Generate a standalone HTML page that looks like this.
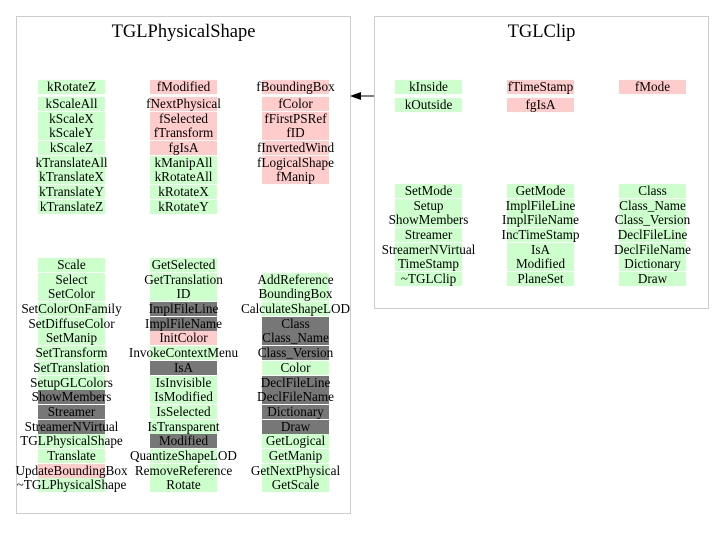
<!DOCTYPE html>
<html><head><style>
body{margin:0;width:723px;height:540px;background:#fff;position:relative;overflow:hidden;font-family:"Liberation Serif",serif}
.b{position:absolute;border:1px solid #cccccc}
.t{position:absolute;font-size:18.5px;text-align:center}
.c{position:absolute;width:67px;height:14px;line-height:14px;font-size:13.2px;display:flex;justify-content:center;white-space:nowrap;color:#000}
.g{background:#ccffcc}.p{background:#ffcccc}.d{background:#777}
</style></head><body>
<div class="b" style="left:16px;top:16px;width:333px;height:496px"></div>
<div class="t" style="left:16px;top:22px;width:335px">TGLPhysicalShape</div>
<div class="b" style="left:374px;top:16px;width:333px;height:291px"></div>
<div class="t" style="left:374px;top:22px;width:335px">TGLClip</div>
<svg style="position:absolute;left:0;top:0" width="723" height="540"><line x1="374" y1="96" x2="358" y2="96" stroke="#000"/><polygon points="350,96 361,92 361,100" fill="#000"/></svg>

<div class="c g" style="left:38px;top:80px">kRotateZ</div>
<div class="c g" style="left:38px;top:97px">kScaleAll</div>
<div class="c g" style="left:38px;top:112px">kScaleX</div>
<div class="c g" style="left:38px;top:126px">kScaleY</div>
<div class="c g" style="left:38px;top:141px">kScaleZ</div>
<div class="c g" style="left:38px;top:156px">kTranslateAll</div>
<div class="c g" style="left:38px;top:170px">kTranslateX</div>
<div class="c g" style="left:38px;top:185px">kTranslateY</div>
<div class="c g" style="left:38px;top:200px">kTranslateZ</div>

<div class="c p" style="left:150px;top:80px">fModified</div>
<div class="c p" style="left:150px;top:97px">fNextPhysical</div>
<div class="c p" style="left:150px;top:112px">fSelected</div>
<div class="c p" style="left:150px;top:126px">fTransform</div>
<div class="c p" style="left:150px;top:141px">fgIsA</div>
<div class="c g" style="left:150px;top:156px">kManipAll</div>
<div class="c g" style="left:150px;top:170px">kRotateAll</div>
<div class="c g" style="left:150px;top:185px">kRotateX</div>
<div class="c g" style="left:150px;top:200px">kRotateY</div>

<div class="c p" style="left:262px;top:80px">fBoundingBox</div>
<div class="c p" style="left:262px;top:97px">fColor</div>
<div class="c p" style="left:262px;top:112px">fFirstPSRef</div>
<div class="c p" style="left:262px;top:126px">fID</div>
<div class="c p" style="left:262px;top:141px">fInvertedWind</div>
<div class="c p" style="left:262px;top:156px">fLogicalShape</div>
<div class="c p" style="left:262px;top:170px">fManip</div>

<div class="c g" style="left:38px;top:258px">Scale</div>
<div class="c g" style="left:38px;top:273px">Select</div>
<div class="c g" style="left:38px;top:287px">SetColor</div>
<div class="c g" style="left:38px;top:302px">SetColorOnFamily</div>
<div class="c g" style="left:38px;top:317px">SetDiffuseColor</div>
<div class="c g" style="left:38px;top:331px">SetManip</div>
<div class="c g" style="left:38px;top:346px">SetTransform</div>
<div class="c g" style="left:38px;top:361px">SetTranslation</div>
<div class="c g" style="left:38px;top:376px">SetupGLColors</div>
<div class="c d" style="left:38px;top:390px">ShowMembers</div>
<div class="c d" style="left:38px;top:405px">Streamer</div>
<div class="c d" style="left:38px;top:420px">StreamerNVirtual</div>
<div class="c g" style="left:38px;top:434px">TGLPhysicalShape</div>
<div class="c g" style="left:38px;top:449px">Translate</div>
<div class="c p" style="left:38px;top:464px">UpdateBoundingBox</div>
<div class="c g" style="left:38px;top:478px">~TGLPhysicalShape</div>

<div class="c g" style="left:150px;top:258px">GetSelected</div>
<div class="c g" style="left:150px;top:273px">GetTranslation</div>
<div class="c g" style="left:150px;top:287px">ID</div>
<div class="c d" style="left:150px;top:302px">ImplFileLine</div>
<div class="c d" style="left:150px;top:317px">ImplFileName</div>
<div class="c p" style="left:150px;top:331px">InitColor</div>
<div class="c g" style="left:150px;top:346px">InvokeContextMenu</div>
<div class="c d" style="left:150px;top:361px">IsA</div>
<div class="c g" style="left:150px;top:376px">IsInvisible</div>
<div class="c g" style="left:150px;top:390px">IsModified</div>
<div class="c g" style="left:150px;top:405px">IsSelected</div>
<div class="c g" style="left:150px;top:420px">IsTransparent</div>
<div class="c d" style="left:150px;top:434px">Modified</div>
<div class="c g" style="left:150px;top:449px">QuantizeShapeLOD</div>
<div class="c g" style="left:150px;top:464px">RemoveReference</div>
<div class="c g" style="left:150px;top:478px">Rotate</div>

<div class="c g" style="left:262px;top:273px">AddReference</div>
<div class="c g" style="left:262px;top:287px">BoundingBox</div>
<div class="c g" style="left:262px;top:302px">CalculateShapeLOD</div>
<div class="c d" style="left:262px;top:317px">Class</div>
<div class="c d" style="left:262px;top:331px">Class_Name</div>
<div class="c d" style="left:262px;top:346px">Class_Version</div>
<div class="c g" style="left:262px;top:361px">Color</div>
<div class="c d" style="left:262px;top:376px">DeclFileLine</div>
<div class="c d" style="left:262px;top:390px">DeclFileName</div>
<div class="c d" style="left:262px;top:405px">Dictionary</div>
<div class="c d" style="left:262px;top:420px">Draw</div>
<div class="c g" style="left:262px;top:434px">GetLogical</div>
<div class="c g" style="left:262px;top:449px">GetManip</div>
<div class="c g" style="left:262px;top:464px">GetNextPhysical</div>
<div class="c g" style="left:262px;top:478px">GetScale</div>

<div class="c g" style="left:395px;top:80px">kInside</div>
<div class="c g" style="left:395px;top:98px">kOutside</div>
<div class="c p" style="left:507px;top:80px">fTimeStamp</div>
<div class="c p" style="left:507px;top:98px">fgIsA</div>
<div class="c p" style="left:619px;top:80px">fMode</div>

<div class="c g" style="left:395px;top:184px">SetMode</div>
<div class="c g" style="left:395px;top:199px">Setup</div>
<div class="c g" style="left:395px;top:213px">ShowMembers</div>
<div class="c g" style="left:395px;top:228px">Streamer</div>
<div class="c g" style="left:395px;top:243px">StreamerNVirtual</div>
<div class="c g" style="left:395px;top:257px">TimeStamp</div>
<div class="c g" style="left:395px;top:272px">~TGLClip</div>

<div class="c g" style="left:507px;top:184px">GetMode</div>
<div class="c g" style="left:507px;top:199px">ImplFileLine</div>
<div class="c g" style="left:507px;top:213px">ImplFileName</div>
<div class="c g" style="left:507px;top:228px">IncTimeStamp</div>
<div class="c g" style="left:507px;top:243px">IsA</div>
<div class="c g" style="left:507px;top:257px">Modified</div>
<div class="c g" style="left:507px;top:272px">PlaneSet</div>

<div class="c g" style="left:619px;top:184px">Class</div>
<div class="c g" style="left:619px;top:199px">Class_Name</div>
<div class="c g" style="left:619px;top:213px">Class_Version</div>
<div class="c g" style="left:619px;top:228px">DeclFileLine</div>
<div class="c g" style="left:619px;top:243px">DeclFileName</div>
<div class="c g" style="left:619px;top:257px">Dictionary</div>
<div class="c g" style="left:619px;top:272px">Draw</div>
</body></html>
